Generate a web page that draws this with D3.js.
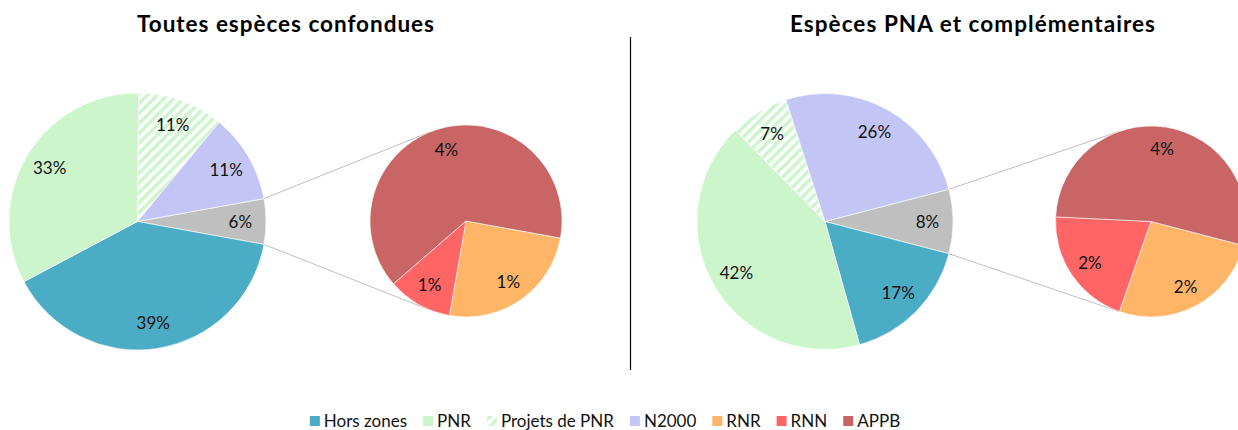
<!DOCTYPE html>
<html>
<head>
<meta charset="utf-8">
<script src="https://cdn.jsdelivr.net/npm/d3@7"></script>
<style>
  html, body { margin: 0; padding: 0; background: #fff; }
  svg { display: block; font-family: Lato, "Open Sans", sans-serif; }
</style>
</head>
<body>
<svg id="chart" width="1238" height="430"></svg>
<script>
// Share of records by protection zone (percent of all records)
const categories = ["Hors zones", "PNR", "Projets de PNR", "N2000", "RNR", "RNN", "APPB"];
const toutesEspeces = [39.4, 32.9, 10.8, 11.2, 1.42, 0.62, 3.66];
const especesPNA    = [16.6, 42.0, 7.4, 25.9, 2.13, 1.65, 4.31];
const titles = ["Toutes espèces confondues", "Espèces PNA et complémentaires"];
// Last three categories are grouped into the "other" slice and split in the side pie
const detailCount = 3;

const colors = {
  "Hors zones": "#4BACC6",
  "PNR": "#CCF5CC",
  "Projets de PNR": "url(#hatch)",
  "N2000": "#C3C6F5",
  "RNR": "#FFB567",
  "RNN": "#FF6565",
  "APPB": "#C96565",
  "other": "#BFBFBF"
};

const svg = d3.select("#chart");
const defs = svg.append("defs");
const hatch = defs.append("pattern")
  .attr("id", "hatch")
  .attr("patternUnits", "userSpaceOnUse")
  .attr("width", 7).attr("height", 7)
  .attr("patternTransform", "rotate(45)");
hatch.append("rect").attr("width", 7).attr("height", 7).attr("fill", "#fff");
hatch.append("rect").attr("width", 3.5).attr("height", 7).attr("fill", "#CCF5CC");

const panels = [
  { values: toutesEspeces, title: titles[0], titleX: 285.5, titleW: 297,
    main: { cx: 137.5, cy: 221.5, r: 128.5 }, side: { cx: 466, cy: 221, r: 96 } },
  { values: especesPNA, title: titles[1], titleX: 972.5, titleW: 365,
    main: { cx: 825, cy: 221.5, r: 128 }, side: { cx: 1151, cy: 221.5, r: 95.5 } }
];

const fmt = v => Math.round(v) + "%";

panels.forEach(p => {
  const n = categories.length;
  const mainCats = categories.slice(0, n - detailCount);
  const sideCats = categories.slice(n - detailCount);
  const mainVals = p.values.slice(0, n - detailCount);
  const sideVals = p.values.slice(n - detailCount);
  const otherVal = d3.sum(sideVals);

  // main pie: "other" slice first, centred on the 3 o'clock direction
  const mainData = [{ key: "other", value: otherVal }]
    .concat(mainCats.map((c, i) => ({ key: c, value: mainVals[i] })));
  const otherAngle = otherVal / d3.sum(mainData, d => d.value) * 2 * Math.PI;
  const mainStart = Math.PI / 2 - otherAngle / 2;
  const mainPie = d3.pie().sort(null).value(d => d.value)
    .startAngle(mainStart).endAngle(mainStart + 2 * Math.PI);
  const mainArcs = mainPie(mainData);

  const sideData = sideCats.map((c, i) => ({ key: c, value: sideVals[i] }));
  const sideStart = Math.PI / 2 + otherAngle / 2;
  const sidePie = d3.pie().sort(null).value(d => d.value)
    .startAngle(sideStart).endAngle(sideStart + 2 * Math.PI);
  const sideArcs = sidePie(sideData);

  // connector lines: from the edges of the "other" slice, tangent to the side pie
  const m = p.main, s = p.side;
  const otherArc = mainArcs[0];
  [otherArc.startAngle, otherArc.endAngle].forEach((a, idx) => {
    const px = m.cx + m.r * Math.sin(a), py = m.cy - m.r * Math.cos(a);
    const dx = px - s.cx, dy = py - s.cy;
    const d = Math.hypot(dx, dy);
    const base = Math.atan2(dx, -dy);
    const off = Math.acos(s.r / d);
    const t = idx === 0 ? base + off : base - off;
    svg.append("line")
      .attr("x1", px).attr("y1", py)
      .attr("x2", s.cx + s.r * Math.sin(t)).attr("y2", s.cy - s.r * Math.cos(t))
      .attr("stroke", "#BFBFBF").attr("stroke-width", 1);
  });

  const drawPie = (arcs, geo, labelK) => {
    const g = svg.append("g").attr("transform", `translate(${geo.cx},${geo.cy})`);
    const arc = d3.arc().innerRadius(0).outerRadius(geo.r);
    const labelArc = d3.arc().innerRadius(geo.r * labelK).outerRadius(geo.r * labelK);
    g.selectAll("path").data(arcs).join("path")
      .attr("d", arc)
      .attr("fill", d => colors[d.data.key])
      .attr("stroke", "#fff").attr("stroke-width", 0.6);
    g.selectAll("text").data(arcs).join("text")
      .attr("transform", d => `translate(${labelArc.centroid(d)})`)
      .attr("text-anchor", "middle")
      .attr("dy", "0.36em")
      .attr("font-size", 17)
      .attr("fill", "#111")
      .text(d => fmt(d.data.value));
  };
  drawPie(mainArcs, m, 0.8);
  drawPie(sideArcs, s, 0.77);

  svg.append("text")
    .attr("x", p.titleX).attr("y", 32)
    .attr("text-anchor", "middle")
    .attr("font-size", 22.5).attr("font-weight", "bold")
    .attr("textLength", p.titleW).attr("lengthAdjust", "spacing")
    .attr("fill", "#000")
    .text(p.title);
});

// divider between the two panels
svg.append("line")
  .attr("x1", 630.5).attr("x2", 630.5)
  .attr("y1", 37).attr("y2", 370)
  .attr("stroke", "#000").attr("stroke-width", 1.2);

// legend
const legend = svg.append("g");
let lx = 0;
categories.forEach(c => {
  const item = legend.append("g").attr("transform", `translate(${lx},0)`);
  item.append("rect").attr("x", 0).attr("y", -11).attr("width", 10).attr("height", 10)
    .attr("fill", colors[c]);
  const t = item.append("text").attr("x", 14).attr("y", 0)
    .attr("font-size", 17).attr("fill", "#111").text(c);
  lx += 14 + t.node().getComputedTextLength() + 16;
});
const legendW = lx - 16;
legend.attr("transform", `translate(${605 - legendW / 2},427)`);
</script>
</body>
</html>
